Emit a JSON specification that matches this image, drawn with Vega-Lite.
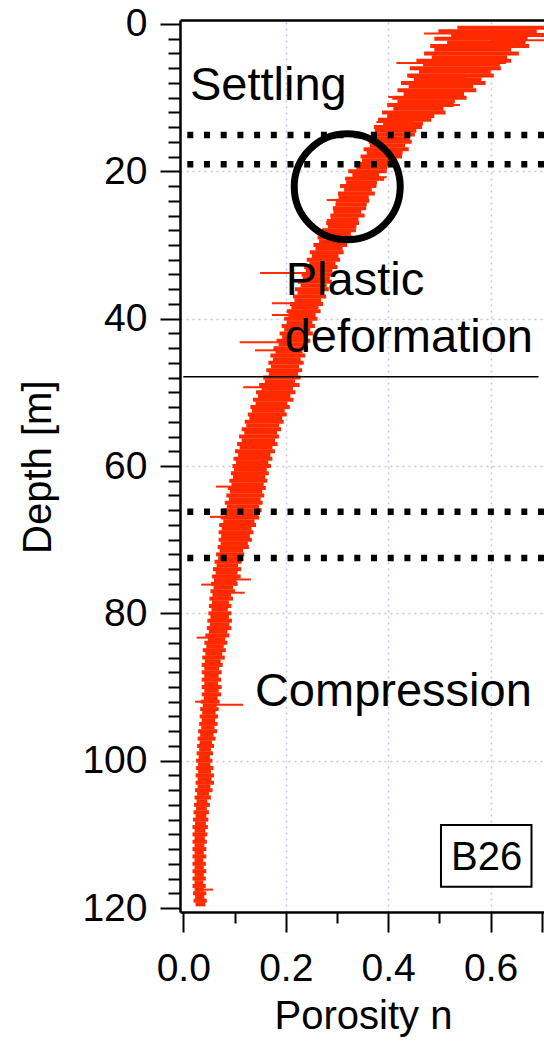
{
"$schema":"https://vega.github.io/schema/vega-lite/v6.json",
"width":364,"height":892,
"autosize":{"type":"none"},
"padding":{"left":180,"top":20,"right":0,"bottom":130},
"background":"white",
"config":{"view":{"stroke":null},"font":"Liberation Sans",
 "axis":{"labelFont":"Liberation Sans","titleFont":"Liberation Sans","labelColor":"#000","titleColor":"#000","tickColor":"#000","domainColor":"#000","titleFontWeight":"normal","labelFontSize":39,"titleFontSize":40,"tickWidth":2,"domainWidth":2.5,"gridColor":"#c4c4ec","gridDash":[2,4],"gridWidth":1.5,"labelOverlap":false,"labelBound":false,"labelFlush":false}},
"datasets":{
"band":[
{"d":0.5,"lo":0.535,"hi":0.708},{"d":1.0,"lo":0.498,"hi":0.69},{"d":1.5,"lo":0.523,"hi":0.705},{"d":2.0,"lo":0.49,"hi":0.672},{"d":2.5,"lo":0.515,"hi":0.668},{"d":3.0,"lo":0.482,"hi":0.675},{"d":3.5,"lo":0.49,"hi":0.64},{"d":4.0,"lo":0.47,"hi":0.655},{"d":4.5,"lo":0.485,"hi":0.632},{"d":5.0,"lo":0.455,"hi":0.64},{"d":5.5,"lo":0.468,"hi":0.618},{"d":6.0,"lo":0.442,"hi":0.62},{"d":6.5,"lo":0.46,"hi":0.6},{"d":7.0,"lo":0.437,"hi":0.606},{"d":7.5,"lo":0.45,"hi":0.582},{"d":8.0,"lo":0.425,"hi":0.59},{"d":8.5,"lo":0.44,"hi":0.566},{"d":9.0,"lo":0.418,"hi":0.572},{"d":9.5,"lo":0.43,"hi":0.548},{"d":10.0,"lo":0.408,"hi":0.553},{"d":10.5,"lo":0.418,"hi":0.53},{"d":11.0,"lo":0.398,"hi":0.528},{"d":11.5,"lo":0.41,"hi":0.508},{"d":12.0,"lo":0.388,"hi":0.512},{"d":12.5,"lo":0.398,"hi":0.49},{"d":13.0,"lo":0.38,"hi":0.484},{"d":13.5,"lo":0.39,"hi":0.468},{"d":14.0,"lo":0.372,"hi":0.466},
{"d":14.5,"lo":0.374,"hi":0.455},{"d":15.0,"lo":0.366,"hi":0.452},{"d":15.5,"lo":0.37,"hi":0.442},{"d":16.0,"lo":0.362,"hi":0.446},{"d":16.5,"lo":0.364,"hi":0.433},{"d":17.0,"lo":0.352,"hi":0.44},{"d":17.5,"lo":0.358,"hi":0.428},{"d":18.0,"lo":0.346,"hi":0.427},{"d":18.5,"lo":0.349,"hi":0.416},{"d":19.0,"lo":0.336,"hi":0.414},{"d":19.5,"lo":0.338,"hi":0.398},{"d":20.0,"lo":0.322,"hi":0.397},{"d":20.5,"lo":0.33,"hi":0.382},{"d":21.0,"lo":0.316,"hi":0.392},{"d":21.5,"lo":0.318,"hi":0.378},{"d":22.0,"lo":0.306,"hi":0.377},{"d":22.5,"lo":0.314,"hi":0.368},{"d":23.0,"lo":0.302,"hi":0.374},{"d":23.5,"lo":0.303,"hi":0.362},{"d":24.0,"lo":0.298,"hi":0.363},{"d":24.5,"lo":0.297,"hi":0.358},{"d":25.0,"lo":0.292,"hi":0.357},{"d":25.5,"lo":0.293,"hi":0.347},{"d":26.0,"lo":0.287,"hi":0.354},{"d":26.5,"lo":0.288,"hi":0.342},{"d":27.0,"lo":0.279,"hi":0.343},{"d":27.5,"lo":0.282,"hi":0.338},{"d":28.0,"lo":0.271,"hi":0.337},{"d":28.5,"lo":0.274,"hi":0.327},{"d":29.0,"lo":0.262,"hi":0.331},{"d":29.5,"lo":0.265,"hi":0.317},{"d":30.0,"lo":0.254,"hi":0.32},
{"d":30.5,"lo":0.258,"hi":0.311},{"d":31.0,"lo":0.247,"hi":0.313},{"d":31.5,"lo":0.251,"hi":0.303},{"d":32.0,"lo":0.241,"hi":0.306},{"d":32.5,"lo":0.246,"hi":0.297},{"d":33.0,"lo":0.236,"hi":0.301},{"d":33.5,"lo":0.239,"hi":0.291},{"d":34.0,"lo":0.231,"hi":0.294},{"d":34.5,"lo":0.233,"hi":0.286},{"d":35.0,"lo":0.224,"hi":0.29},{"d":35.5,"lo":0.229,"hi":0.28},{"d":36.0,"lo":0.218,"hi":0.284},{"d":36.5,"lo":0.223,"hi":0.274},{"d":37.0,"lo":0.214,"hi":0.279},{"d":37.5,"lo":0.217,"hi":0.269},{"d":38.0,"lo":0.208,"hi":0.273},{"d":38.5,"lo":0.211,"hi":0.264},{"d":39.0,"lo":0.202,"hi":0.268},{"d":39.5,"lo":0.205,"hi":0.258},{"d":40.0,"lo":0.197,"hi":0.262},{"d":40.5,"lo":0.202,"hi":0.252},{"d":41.0,"lo":0.192,"hi":0.257},{"d":41.5,"lo":0.197,"hi":0.248},{"d":42.0,"lo":0.188,"hi":0.253},{"d":42.5,"lo":0.193,"hi":0.243},{"d":43.0,"lo":0.182,"hi":0.248},{"d":43.5,"lo":0.186,"hi":0.238},{"d":44.0,"lo":0.176,"hi":0.243},{"d":44.5,"lo":0.18,"hi":0.233},{"d":45.0,"lo":0.17,"hi":0.238},
{"d":45.5,"lo":0.175,"hi":0.229},{"d":46.0,"lo":0.166,"hi":0.235},{"d":46.5,"lo":0.171,"hi":0.226},{"d":47.0,"lo":0.162,"hi":0.232},{"d":47.5,"lo":0.167,"hi":0.224},{"d":48.0,"lo":0.156,"hi":0.229},{"d":48.5,"lo":0.159,"hi":0.218},{"d":49.0,"lo":0.148,"hi":0.227},{"d":49.5,"lo":0.153,"hi":0.214},{"d":50.0,"lo":0.142,"hi":0.219},{"d":50.5,"lo":0.146,"hi":0.209},{"d":51.0,"lo":0.136,"hi":0.215},{"d":51.5,"lo":0.141,"hi":0.203},{"d":52.0,"lo":0.131,"hi":0.208},{"d":52.5,"lo":0.134,"hi":0.198},{"d":53.0,"lo":0.126,"hi":0.202},{"d":53.5,"lo":0.129,"hi":0.193},{"d":54.0,"lo":0.12,"hi":0.196},{"d":54.5,"lo":0.123,"hi":0.187},{"d":55.0,"lo":0.114,"hi":0.191},{"d":55.5,"lo":0.119,"hi":0.183},{"d":56.0,"lo":0.109,"hi":0.187},{"d":56.5,"lo":0.114,"hi":0.179},{"d":57.0,"lo":0.105,"hi":0.184},{"d":57.5,"lo":0.11,"hi":0.174},{"d":58.0,"lo":0.101,"hi":0.179},{"d":58.5,"lo":0.107,"hi":0.17},{"d":59.0,"lo":0.098,"hi":0.174},{"d":59.5,"lo":0.103,"hi":0.166},{"d":60.0,"lo":0.096,"hi":0.171},
{"d":60.5,"lo":0.099,"hi":0.163},{"d":61.0,"lo":0.093,"hi":0.167},{"d":61.5,"lo":0.097,"hi":0.16},{"d":62.0,"lo":0.09,"hi":0.164},{"d":62.5,"lo":0.094,"hi":0.157},{"d":63.0,"lo":0.087,"hi":0.161},{"d":63.5,"lo":0.091,"hi":0.154},{"d":64.0,"lo":0.084,"hi":0.158},{"d":64.5,"lo":0.089,"hi":0.151},{"d":65.0,"lo":0.081,"hi":0.155},{"d":65.5,"lo":0.085,"hi":0.148},{"d":66.0,"lo":0.077,"hi":0.153},{"d":66.5,"lo":0.081,"hi":0.145},{"d":67.0,"lo":0.073,"hi":0.148},{"d":67.5,"lo":0.078,"hi":0.139},{"d":68.0,"lo":0.07,"hi":0.142},{"d":68.5,"lo":0.075,"hi":0.133},{"d":69.0,"lo":0.069,"hi":0.137},{"d":69.5,"lo":0.074,"hi":0.13},{"d":70.0,"lo":0.069,"hi":0.134},{"d":70.5,"lo":0.073,"hi":0.126},{"d":71.0,"lo":0.067,"hi":0.128},{"d":71.5,"lo":0.071,"hi":0.117},{"d":72.0,"lo":0.064,"hi":0.119},{"d":72.5,"lo":0.068,"hi":0.109},{"d":73.0,"lo":0.061,"hi":0.114},{"d":73.5,"lo":0.065,"hi":0.107},{"d":74.0,"lo":0.058,"hi":0.113},{"d":74.5,"lo":0.063,"hi":0.106},{"d":75.0,"lo":0.056,"hi":0.112},
{"d":75.5,"lo":0.06,"hi":0.104},{"d":76.0,"lo":0.054,"hi":0.106},{"d":76.5,"lo":0.059,"hi":0.097},{"d":77.0,"lo":0.053,"hi":0.101},{"d":77.5,"lo":0.057,"hi":0.093},{"d":78.0,"lo":0.051,"hi":0.097},{"d":78.5,"lo":0.056,"hi":0.089},{"d":79.0,"lo":0.05,"hi":0.094},{"d":79.5,"lo":0.055,"hi":0.087},{"d":80.0,"lo":0.049,"hi":0.094},{"d":80.5,"lo":0.053,"hi":0.089},{"d":81.0,"lo":0.047,"hi":0.095},{"d":81.5,"lo":0.052,"hi":0.09},{"d":82.0,"lo":0.046,"hi":0.094},{"d":82.5,"lo":0.05,"hi":0.086},{"d":83.0,"lo":0.043,"hi":0.09},{"d":83.5,"lo":0.048,"hi":0.082},{"d":84.0,"lo":0.041,"hi":0.086},{"d":84.5,"lo":0.045,"hi":0.079},{"d":85.0,"lo":0.038,"hi":0.083},{"d":85.5,"lo":0.043,"hi":0.076},{"d":86.0,"lo":0.037,"hi":0.081},{"d":86.5,"lo":0.042,"hi":0.073},{"d":87.0,"lo":0.036,"hi":0.077},{"d":87.5,"lo":0.041,"hi":0.07},{"d":88.0,"lo":0.036,"hi":0.075},{"d":88.5,"lo":0.041,"hi":0.069},{"d":89.0,"lo":0.036,"hi":0.074},{"d":89.5,"lo":0.041,"hi":0.068},{"d":90.0,"lo":0.036,"hi":0.075},
{"d":90.5,"lo":0.041,"hi":0.069},{"d":91.0,"lo":0.036,"hi":0.074},{"d":91.5,"lo":0.04,"hi":0.067},{"d":92.0,"lo":0.034,"hi":0.071},{"d":92.5,"lo":0.038,"hi":0.065},{"d":93.0,"lo":0.033,"hi":0.069},{"d":93.5,"lo":0.037,"hi":0.063},{"d":94.0,"lo":0.032,"hi":0.068},{"d":94.5,"lo":0.036,"hi":0.062},{"d":95.0,"lo":0.031,"hi":0.067},{"d":95.5,"lo":0.035,"hi":0.061},{"d":96.0,"lo":0.029,"hi":0.066},{"d":96.5,"lo":0.033,"hi":0.059},{"d":97.0,"lo":0.028,"hi":0.063},{"d":97.5,"lo":0.032,"hi":0.056},{"d":98.0,"lo":0.027,"hi":0.06},{"d":98.5,"lo":0.031,"hi":0.054},{"d":99.0,"lo":0.026,"hi":0.058},{"d":99.5,"lo":0.03,"hi":0.052},{"d":100.0,"lo":0.025,"hi":0.057},{"d":100.5,"lo":0.029,"hi":0.053},{"d":101.0,"lo":0.025,"hi":0.059},{"d":101.5,"lo":0.029,"hi":0.054},{"d":102.0,"lo":0.024,"hi":0.06},{"d":102.5,"lo":0.028,"hi":0.055},{"d":103.0,"lo":0.024,"hi":0.06},{"d":103.5,"lo":0.028,"hi":0.053},{"d":104.0,"lo":0.023,"hi":0.057},{"d":104.5,"lo":0.027,"hi":0.05},{"d":105.0,"lo":0.022,"hi":0.054},
{"d":105.5,"lo":0.026,"hi":0.047},{"d":106.0,"lo":0.021,"hi":0.052},{"d":106.5,"lo":0.025,"hi":0.046},{"d":107.0,"lo":0.02,"hi":0.05},{"d":107.5,"lo":0.024,"hi":0.045},{"d":108.0,"lo":0.019,"hi":0.049},{"d":108.5,"lo":0.023,"hi":0.044},{"d":109.0,"lo":0.018,"hi":0.048},{"d":109.5,"lo":0.022,"hi":0.043},{"d":110.0,"lo":0.018,"hi":0.047},{"d":110.5,"lo":0.022,"hi":0.042},{"d":111.0,"lo":0.018,"hi":0.046},{"d":111.5,"lo":0.022,"hi":0.041},{"d":112.0,"lo":0.018,"hi":0.045},{"d":112.5,"lo":0.022,"hi":0.04},{"d":113.0,"lo":0.018,"hi":0.045},{"d":113.5,"lo":0.022,"hi":0.039},{"d":114.0,"lo":0.018,"hi":0.044},{"d":114.5,"lo":0.022,"hi":0.04},{"d":115.0,"lo":0.018,"hi":0.045},{"d":115.5,"lo":0.022,"hi":0.04},{"d":116.0,"lo":0.018,"hi":0.044},{"d":116.5,"lo":0.022,"hi":0.039},{"d":117.0,"lo":0.018,"hi":0.044},{"d":117.5,"lo":0.022,"hi":0.04},{"d":118.0,"lo":0.019,"hi":0.045},{"d":118.5,"lo":0.023,"hi":0.041},{"d":119.0,"lo":0.02,"hi":0.046},{"d":119.5,"lo":0.024,"hi":0.043}
],
"spikes":[
{"d":1.3,"lo":0.47,"hi":0.6},{"d":2.2,"lo":0.6,"hi":0.72},{"d":5.3,"lo":0.416,"hi":0.63},{"d":7.2,"lo":0.44,"hi":0.55},{"d":9.9,"lo":0.4,"hi":0.5},{"d":11.0,"lo":0.42,"hi":0.54},{"d":13.3,"lo":0.377,"hi":0.45},{"d":20.8,"lo":0.34,"hi":0.397},{"d":23.9,"lo":0.28,"hi":0.34},{"d":26.6,"lo":0.28,"hi":0.32},{"d":33.8,"lo":0.15,"hi":0.26},{"d":37.9,"lo":0.173,"hi":0.24},{"d":39.5,"lo":0.173,"hi":0.23},{"d":43.2,"lo":0.11,"hi":0.2},{"d":44.3,"lo":0.14,"hi":0.2},{"d":49.3,"lo":0.117,"hi":0.18},{"d":62.8,"lo":0.064,"hi":0.12},{"d":66.9,"lo":0.052,"hi":0.1},{"d":75.4,"lo":0.07,"hi":0.132},{"d":76.1,"lo":0.035,"hi":0.08},{"d":77.2,"lo":0.06,"hi":0.12},{"d":83.3,"lo":0.026,"hi":0.06},{"d":92.0,"lo":0.023,"hi":0.05},{"d":92.4,"lo":0.05,"hi":0.117},{"d":117.5,"lo":0.03,"hi":0.058}
],
"dotted":[{"d":15.07},{"d":19.05},{"d":66.2},{"d":72.5}],
"solid":[{"n0":0,"n1":0.6935,"d":47.87}],
"circle":[{"n":0.32,"d":22.1}],
"notes":[{"n":0.013,"d":10.3,"t":"Settling"},{"n":0.2,"d":36.8,"t":"Plastic"},{"n":0.198,"d":44.5,"t":"deformation"},{"n":0.1398,"d":92.6,"t":"Compression"}],
"box":[{"n0":0.503,"n1":0.6797,"d0":108.73,"d1":117.1,"n":0.592,"d":114.84,"t":"B26"}]
},
"layer":[
{"data":{"name":"dotted"},"mark":{"type":"rule","strokeWidth":0,"opacity":0},
 "encoding":{"y":{"field":"d","type":"quantitative","scale":{"domain":[-0.54,120.54],"reverse":true,"nice":false,"zero":false},
  "axis":{"orient":"left","values":[20,40,60,80,100],"grid":true,"domain":false,"ticks":false,"labels":false,"title":null}}}},
{"data":{"name":"circle"},"mark":{"type":"point","opacity":0},
 "encoding":{"x":{"field":"n","type":"quantitative","scale":{"domain":[-0.0064,0.7041],"nice":false,"zero":false},
  "axis":{"orient":"bottom","values":[0.2,0.4,0.6],"grid":true,"domain":false,"ticks":false,"labels":false,"title":null}},
  "y":{"field":"d","type":"quantitative","axis":null}}},
{"data":{"name":"band"},"mark":{"type":"rule","color":"#ff2a00","strokeWidth":4,"clip":true},
 "encoding":{"y":{"field":"d","type":"quantitative",
   "axis":{"orient":"left","values":[0,20,40,60,80,100,120],"tickSize":20,"labelPadding":13,"domain":true,"grid":false,"title":"Depth [m]","titleX":-130,"titleY":446.7,"titleAngle":-90,"titleAlign":"center","titleBaseline":"alphabetic"}},
  "x":{"field":"lo","type":"quantitative",
   "axis":{"orient":"bottom","values":[0,0.2,0.4,0.6,0.7],"format":".1f","labelExpr":"datum.value > 0.65 ? '' : datum.label","tickSize":20,"labelPadding":17,"domain":true,"grid":false,"title":"Porosity n","titleX":183,"titleY":116,"titleAlign":"center","titleBaseline":"alphabetic"}},
  "x2":{"field":"hi"}}},
{"data":{"name":"spikes"},"mark":{"type":"rule","color":"#ff2a00","strokeWidth":2,"clip":true},
 "encoding":{"y":{"field":"d","type":"quantitative",
   "axis":{"orient":"left","values":[2,4,6,8,10,12,14,16,18,22,24,26,28,30,32,34,36,38,42,44,46,48,50,52,54,56,58,62,64,66,68,70,72,74,76,78,82,84,86,88,90,92,94,96,98,102,104,106,108,110,112,114,116,118],"tickSize":12,"labels":false,"domain":false,"grid":false,"title":null}},
  "x":{"field":"lo","type":"quantitative",
   "axis":{"orient":"bottom","values":[0.1,0.3,0.5],"tickSize":11,"labels":false,"domain":false,"grid":false,"title":null}},
  "x2":{"field":"hi"}}},
{"data":{"name":"solid"},"mark":{"type":"rule","color":"#000","strokeWidth":1.5},
 "encoding":{"y":{"field":"d","type":"quantitative","axis":null},
  "x":{"field":"n0","type":"quantitative","axis":{"orient":"top","values":[],"domain":true,"ticks":false,"labels":false,"grid":false,"title":null}},
  "x2":{"field":"n1"}}},
{"data":{"name":"dotted"},"mark":{"type":"rule","color":"#000","strokeWidth":6.5,"strokeDash":[6,10.7],"strokeCap":"butt"},
 "encoding":{"y":{"field":"d","type":"quantitative","axis":null}}},
{"data":{"name":"circle"},"mark":{"type":"point","shape":"circle","filled":false,"stroke":"#000","strokeWidth":7,"size":11236,"opacity":1},
 "encoding":{"x":{"field":"n","type":"quantitative","axis":null},"y":{"field":"d","type":"quantitative","axis":null}}},
{"data":{"name":"notes"},"mark":{"type":"text","align":"left","baseline":"alphabetic","fontSize":47,"font":"Liberation Sans","color":"#000"},
 "encoding":{"x":{"field":"n","type":"quantitative","axis":null},"y":{"field":"d","type":"quantitative","axis":null},"text":{"field":"t"}}},
{"data":{"name":"box"},"mark":{"type":"rect","fill":"white","stroke":"#000","strokeWidth":2},
 "encoding":{"x":{"field":"n0","type":"quantitative","axis":null},"x2":{"field":"n1"},"y":{"field":"d0","type":"quantitative","axis":null},"y2":{"field":"d1"}}},
{"data":{"name":"box"},"mark":{"type":"text","align":"center","baseline":"alphabetic","fontSize":40,"font":"Liberation Sans","color":"#000"},
 "encoding":{"x":{"field":"n","type":"quantitative","axis":null},"y":{"field":"d","type":"quantitative","axis":null},"text":{"field":"t"}}}
],
"resolve":{"axis":{"x":"independent","y":"independent"}}
}
